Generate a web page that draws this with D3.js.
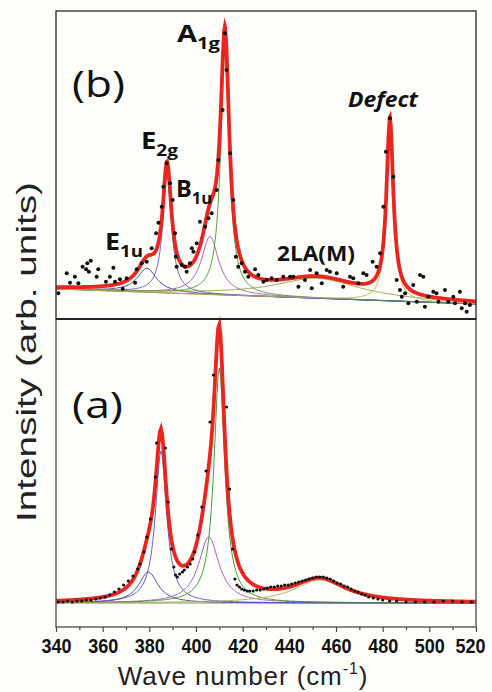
<!DOCTYPE html>
<html><head><meta charset="utf-8">
<script src="https://cdn.jsdelivr.net/npm/d3@7"></script>
<style>html,body{margin:0;padding:0;background:#fefefb;}svg{display:block;}</style>
</head><body>
<svg id="chart" width="492" height="692"></svg>
<script>
// ---------- DATA ----------
const xTicks = [340, 360, 380, 400, 420, 440, 460, 480, 500, 520];
const xMinorTicks = [350, 370, 390, 410, 430, 450, 470, 490, 510];

// Panel (b): Lorentzian fit components (centre cm-1, height a.u., FWHM cm-1)
const peakNamesB   = ["E1u", "E2g", "B1u", "A1g", "2LA(M)", "Defect"];
const peakCentersB = [379, 387.6, 406, 412.4, 452, 483.1];
const peakHeightsB = [24, 118, 58, 243, 20, 176];
const peakWidthsB  = [10, 4.5, 9, 4.5, 45, 3.5];
const baselineB    = [30, 15];   // background at 340 and 520 cm-1

// Panel (b): measured points
const dotsBx = [341.0,344.6,346.0,348.1,349.6,351.4,353.4,354.9,352.9,354.1,357.4,358.1,361.4,364.6,363.1,365.3,367.4,368.6,370.3,373.9,374.6,376.7,378.9,381.0,382.9,383.9,385.3,386.0,387.4,388.9,390.0,391.0,391.4,391.7,393.9,395.3,396.0,397.4,398.2,398.9,400.3,401.7,403.9,405.3,406.7,408.9,409.6,411.4,412.4,413.1,414.6,416.0,417.1,418.1,419.6,421.0,422.4,425.3,426.7,428.9,430.3,432.4,434.6,437.4,440.3,441.7,443.9,446.7,449.6,448.9,451.7,453.9,456.0,457.4,460.3,463.1,466.0,467.4,469.6,471.7,473.1,475.7,477.4,478.9,480.3,481.4,483.1,484.6,486.0,487.4,488.2,489.6,491.0,493.1,494.6,496.0,497.4,498.1,499.6,501.7,503.1,503.9,506.7,508.1,510.3,511.0,513.1,513.9,515.3,516.0,517.4];
const dotsBy = [25.7,45.7,36.3,42.3,35.7,52.3,55.7,58.3,49.7,47.3,42.3,49.7,37.3,51.3,42.3,37.3,39.7,30.3,40.7,36.3,49.7,55.7,57.3,70.7,85.7,96.3,112.3,132.3,155.7,135.7,119,85.7,62.3,52.3,54,52.3,47.3,55.7,70.7,67.3,75.7,97.3,92.3,100.7,105.7,129,159,209,285.7,249,165.7,119,62.3,52.3,55.7,47.3,42.3,49.7,44,37.3,39,40.7,39,42.3,42.3,42.3,32.3,39,30.7,49,45.7,35.7,49,47.3,45.7,32.3,42.3,40.7,35.7,45.7,44,57.3,52.3,65.7,112.3,167.3,200.7,142.3,39,29,22.3,25.7,15.7,34,17.3,44,42.3,12.3,22.3,27.3,25.7,17.3,29,17.3,22.3,15.7,27.3,10.7,15.7,7.3,14];

// Panel (a): Lorentzian fit components
const peakCentersA = [379.6, 385.0, 405.5, 410.0, 453];
const peakHeightsA = [31, 152, 66, 235, 23];
const peakWidthsA  = [10, 5.8, 10.6, 5.6, 27];
const baselineA    = [24, 24];

// Panel (a): measured points
const dotsAx = [341,343,345,347,349,351,353,355,357,359,361,363,365,367,369,371,373,375,376,377.7,378.9,380.5,382.6,383.1,386.9,388.1,389.4,390.5,391.2,392.0,393.0,394.2,395.0,396.3,397.5,398.6,399.5,400.8,402.5,404.3,406.0,407.5,413.1,414.4,415.7,416.7,417.6,418.6,419.6,420.7,421.9,423,424.5,426,427.5,429,430.5,432,433.5,435,436.5,438,439.5,441,442.5,444,445.5,447,448.5,450,451.5,453,454.5,456,457.5,459,460.5,462,463.5,465,466.5,468,469.5,471,472.5,474,476,478,480,483,486,490,494,498,502,506,510,514,518];
const dotsAy = [25,25,26,25,26,26,27,27,28,29,30,32,35,38,42,46,51,58,63,75,90,108,150,184,179,125,78,60,52,50,53,55,57,60,63,68,75,92,120,156,205,252,220,138,78,48,42,40,38,37,36,36,36,37,37,38,39,40,40,41,41,42,42,43,44,45,46,47,48,49,50,50,50,49,48,46,44,43,41,40,38,36,35,33,32,30,29,28,27,26,26,25,25,25,25,26,26,25,25];

const panelLabels = ["(b)", "(a)"];
const xTitle = "Wave number (cm";
const yTitle = "Intensity (arb. units)";

// ---------- DRAW ----------
const svg = d3.select("#chart");
const L = 56, R = 476, T = 11, M = 319, B = 627;
const x = d3.scaleLinear().domain([340, 520]).range([L, R]);
const yB = d3.scaleLinear().domain([0, 308]).range([M, T]);
const yA = d3.scaleLinear().domain([0, 308]).range([B, M]);

const grid = d3.range(340, 520.001, 0.5);
function lor(v, c, h, w) { const g = w / 2; return h / (1 + ((v - c) / g) ** 2); }
function bg(v, b) { return b[0] + (b[1] - b[0]) * (v - 340) / 180; }
function buildGrid(centers) {
  return Array.from(new Set(grid.concat(centers))).sort((a, b) => a - b);
}

function drawPanel(y, centers, heights, widths, base, colors, baseColor, dx, dy, dotR) {
  const g = svg.append("g");
  const pts = buildGrid(centers);
  const line = d3.line().x(d => x(d[0])).y(d => y(d[1]));
  g.append("path").attr("d", line([[340, base[0]], [520, base[1]]]))
    .attr("fill", "none").attr("stroke", baseColor).attr("stroke-width", 1);
  centers.forEach((c, i) => {
    const d = pts.map(v => [v, bg(v, base) + lor(v, c, heights[i], widths[i])]);
    g.append("path").attr("d", line(d)).attr("fill", "none")
      .attr("stroke", colors[i]).attr("stroke-width", 0.9);
  });
  const tot = pts.map(v => [v, bg(v, base) + centers.reduce((s, c, i) => s + lor(v, c, heights[i], widths[i]), 0)]);
  g.append("path").attr("d", line(tot)).attr("fill", "none")
    .attr("stroke", "#e8261f").attr("stroke-width", 3.8)
    .attr("stroke-linejoin", "miter").attr("stroke-miterlimit", 14);
  g.selectAll("circle").data(dx).join("circle")
    .attr("cx", d => x(d)).attr("cy", (d, i) => y(dy[i])).attr("r", dotR).attr("fill", "#111");
}

drawPanel(yB, peakCentersB, peakHeightsB, peakWidthsB, baselineB,
  ["#3b3b98", "#5a5ac8", "#9a5aa8", "#3c9a3c", "#8c9a3c", "#c8b050"], "#666", dotsBx, dotsBy, 2.0);
drawPanel(yA, peakCentersA, peakHeightsA, peakWidthsA, baselineA,
  ["#3b3b98", "#5050c8", "#a050b0", "#2f8f2f", "#b0a050"], "#7a9a50", dotsAx, dotsAy, 1.6);

// frames
svg.append("rect").attr("x", L).attr("y", T).attr("width", R - L).attr("height", M - T)
  .attr("fill", "none").attr("stroke", "#333").attr("stroke-width", 1.4);
svg.append("rect").attr("x", L).attr("y", M).attr("width", R - L).attr("height", B - M)
  .attr("fill", "none").attr("stroke", "#555").attr("stroke-width", 1.4);
svg.append("line").attr("x1", L).attr("x2", R).attr("y1", M).attr("y2", M)
  .attr("stroke", "#222").attr("stroke-width", 1.8);

// x axis
const ax = svg.append("g").attr("transform", `translate(0,${B})`)
  .call(d3.axisBottom(x).tickValues(xTicks).tickSize(5).tickFormat(d3.format("d")));
ax.select(".domain").remove();
ax.selectAll("line").attr("stroke", "#444").attr("stroke-width", 1.2);
ax.selectAll("text").attr("y", 26).attr("dy", 0)
  .attr("font-family", "'Liberation Sans', Arial, sans-serif").attr("font-weight", "bold")
  .attr("font-size", 21).attr("fill", "#111")
  .attr("textLength", 30).attr("lengthAdjust", "spacingAndGlyphs")
  .attr("text-anchor", d => d === 520 ? "end" : "middle")
  .attr("x", d => d === 520 ? 9 : 0);
const axm = svg.append("g").attr("transform", `translate(0,${B})`)
  .call(d3.axisBottom(x).tickValues(xMinorTicks).tickSize(3).tickFormat(""));
axm.select(".domain").remove();
axm.selectAll("line").attr("stroke", "#444").attr("stroke-width", 1.2);

// axis titles
const xt = svg.append("text").attr("x", 243).attr("y", 685)
  .attr("text-anchor", "middle").attr("font-family", "'Liberation Sans', Arial, sans-serif")
  .attr("font-size", 26).attr("letter-spacing", 0.9).attr("fill", "#222");
xt.append("tspan").text(xTitle);
xt.append("tspan").attr("font-size", 16).attr("dy", -11).text("-1");
xt.append("tspan").attr("dy", 11).text(")");

svg.append("text").attr("transform", "translate(36,352) rotate(-90)")
  .attr("text-anchor", "middle").attr("font-family", "'Liberation Sans', Arial, sans-serif")
  .attr("font-size", 27).attr("fill", "#222")
  .attr("textLength", 340).attr("lengthAdjust", "spacingAndGlyphs").text(yTitle);

// panel labels
const lblFont = "'Open Sans', 'Noto Sans', sans-serif";
svg.append("text").attr("x", 72).attr("y", 97).attr("font-family", lblFont)
  .attr("font-size", 36).attr("fill", "#111").attr("textLength", 53)
  .attr("lengthAdjust", "spacingAndGlyphs").text(panelLabels[0]);
svg.append("text").attr("x", 72).attr("y", 418).attr("font-family", lblFont)
  .attr("font-size", 36).attr("fill", "#111").attr("textLength", 51)
  .attr("lengthAdjust", "spacingAndGlyphs").text(panelLabels[1]);

// peak annotations
function ann(main, sub, xm, ym, len) {
  const t = svg.append("text").attr("x", xm).attr("y", ym).attr("font-family", lblFont)
    .attr("font-weight", "bold").attr("fill", "#111")
    .attr("textLength", len).attr("lengthAdjust", "spacingAndGlyphs");
  t.append("tspan").attr("font-size", 23).text(main);
  t.append("tspan").attr("font-size", 16).attr("dy", 7).text(sub);
}
ann("A", "1g", 177, 42, 43);
ann("E", "2g", 141, 149, 37);
ann("B", "1u", 176, 197, 36);
ann("E", "1u", 105, 250, 38);
svg.append("text").attr("x", 277).attr("y", 261).attr("font-family", lblFont)
  .attr("font-weight", "bold").attr("font-size", 21).attr("fill", "#111")
  .attr("textLength", 78).attr("lengthAdjust", "spacingAndGlyphs").text(peakNamesB[4]);
svg.append("text").attr("x", 348).attr("y", 107).attr("font-family", lblFont)
  .attr("font-weight", "bold").attr("font-style", "italic").attr("font-size", 21)
  .attr("fill", "#111").attr("textLength", 70).attr("lengthAdjust", "spacingAndGlyphs")
  .text(peakNamesB[5]);
</script>
</body></html>
